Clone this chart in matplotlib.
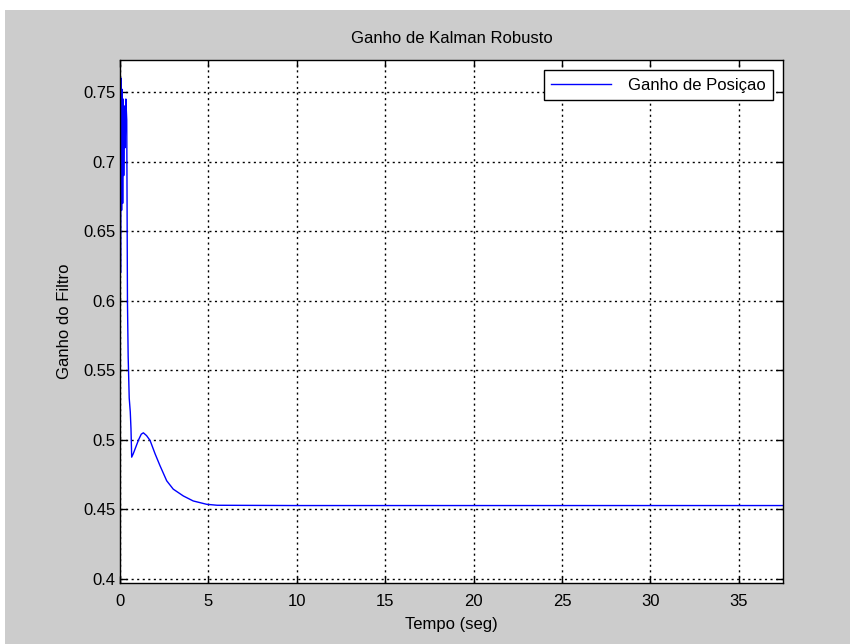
import matplotlib
matplotlib.use('Agg')
import matplotlib.pyplot as plt
from matplotlib.ticker import FuncFormatter
from matplotlib.patches import Rectangle

plt.rcParams['font.family'] = ['Liberation Sans Narrow', 'Liberation Sans', 'DejaVu Sans']

# filter gain (time in s, gain)
tempo = [0.0, 0.03, 0.06, 0.09, 0.12, 0.15, 0.18, 0.21, 0.25, 0.29, 0.33, 0.38,
         0.42, 0.46, 0.52, 0.58, 0.62, 0.66, 0.75, 0.9, 1.05, 1.2, 1.32, 1.5,
         1.7, 1.98, 2.26, 2.64, 3.01, 3.58, 4.14, 4.9, 5.5, 10.0, 20.0, 30.0, 37.5]
ganho_pos = [0.773, 0.62, 0.76, 0.665, 0.752, 0.67, 0.745, 0.69, 0.74, 0.71, 0.745, 0.73,
             0.60, 0.56, 0.53, 0.52, 0.508, 0.4875, 0.490, 0.495, 0.500, 0.504, 0.505, 0.503,
             0.4995, 0.490, 0.4814, 0.4705, 0.4645, 0.4596, 0.456, 0.4536, 0.4529, 0.4527,
             0.4527, 0.4527, 0.4527]

xticks = [0, 5, 10, 15, 20, 25, 30, 35]
yticks = [0.4, 0.45, 0.5, 0.55, 0.6, 0.65, 0.7, 0.75]

fig = plt.figure(figsize=(8.5, 6.44), dpi=100, facecolor='white')
# grey figure panel
fig.patches.append(Rectangle((5/850, 0), 1, 1 - 10/644, transform=fig.transFigure,
                             facecolor='#cccccc', edgecolor='none', zorder=-10))

ax = fig.add_axes([0.1412, 0.0947, 0.78, 0.812])
ax.set_facecolor('white')
ax.plot(tempo, ganho_pos, color=(0, 0, 1), linewidth=1.0, label='Ganho de Posiçao')

ax.set_xlim(0, 37.5)
ax.set_ylim(0.397, 0.773)
ax.set_xticks(xticks)
ax.set_yticks(yticks)
ax.yaxis.set_major_formatter(FuncFormatter(lambda v, p: '%g' % round(v, 2)))
ax.tick_params(axis='x', pad=8)
ax.tick_params(direction='in', top=True, right=True, length=5, width=1,
               labelsize=12, colors='black')
for s in ax.spines.values():
    s.set_linewidth(1.0)
ax.grid(True, color='black', linestyle=(0, (1.5, 2.5)), linewidth=1.0)

ax.set_title('Ganho de Kalman Robusto', fontsize=12, pad=12)
ax.set_xlabel('Tempo (seg)', fontsize=12, labelpad=6)
ax.set_ylabel('Ganho do Filtro', fontsize=12, labelpad=8)

leg = ax.legend(loc='upper right', fontsize=12, fancybox=False, framealpha=1,
                edgecolor='black', borderaxespad=0.6, handlelength=3.6,
                borderpad=0.45, handletextpad=1.0)
leg.get_frame().set_linewidth(1.0)

fig.savefig('out.png', dpi=100, facecolor=fig.get_facecolor())
